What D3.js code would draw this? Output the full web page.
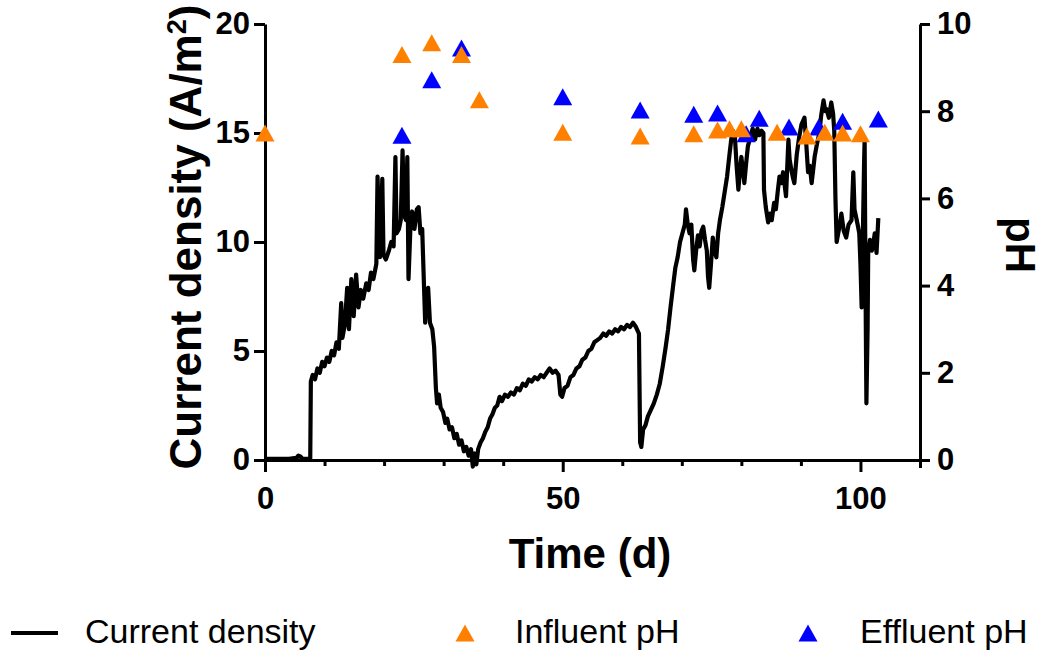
<!DOCTYPE html>
<html lang="en">
<head>
  <meta charset="UTF-8">
  <title>Current density and pH</title>
  <script src="https://d3js.org/d3.v7.min.js"></script>
  <style>
    body { margin: 0; background: #fff; }
    text { font-family: "Liberation Sans", Arial, sans-serif; }
    .axis path, .axis line { stroke: #000; stroke-width: 3px; }
    .axis text { font-size: 31px; font-weight: bold; fill: #000; }
    .title { font-size: 42px; font-weight: bold; }
    .legend text { font-size: 34px; }
  </style>
</head>
<body>
  <div id="chart"></div>
  <script>
    var w = 1044, h = 651;

    // current density (A/m2) vs time (d)
    var current = [
      [0,0.05],[2,0.05],[4,0.05],[5.3,0.1],[5.6,0.2],[6,0.15],[6.3,0.05],[7.6,0.05],[7.7,3.6],
      [8.0,3.9],[8.4,3.7],[8.8,4.2],[9.2,4.0],[9.6,4.5],[10,4.3],[10.4,4.7],[10.8,4.5],[11.2,5.0],[11.6,4.8],
      [12,5.4],[12.4,5.1],[12.8,7.2],[13.0,5.6],[13.4,6.2],[13.8,7.9],[14.1,6.0],[14.5,8.3],[14.9,6.6],
      [15.3,8.5],[15.7,7.0],[16.1,7.8],[16.5,7.4],[17.0,8.1],[17.4,7.8],[17.8,8.6],[18.2,8.3],[18.7,9.0],
      [18.9,13.0],[19.3,9.3],[19.7,12.9],[19.9,9.4],[20.3,9.2],[20.8,9.6],[21.2,10.0],[21.6,9.8],[21.9,13.9],
      [22.1,10.4],[22.5,10.6],[22.8,11.0],[23.1,14.2],[23.4,11.2],[23.7,11.0],[23.9,13.9],[24.1,8.3],[24.4,10.5],
      [24.7,11.4],[25.1,10.6],[25.5,11.5],[25.8,11.6],[26.1,10.4],[26.4,10.6],[26.7,8.0],[26.9,6.3],[27.2,7.5],
      [27.4,7.9],[27.7,6.3],[28.1,6.0],[28.4,5.2],[28.7,3.3],[28.9,2.6],[29.2,3.0],[29.5,2.4],[29.9,2.2],
      [30.3,1.7],[30.6,1.9],[31.0,1.4],[31.4,1.5],[31.8,1.0],[32.2,1.2],[32.6,0.7],[33.0,0.9],[33.4,0.4],
      [33.8,0.6],[34.2,0.2],[34.6,0.5],[34.9,-0.3],[35.2,0.3],[35.5,-0.2],[35.8,0.5],[36.2,0.8],[36.6,1.0],
      [37.0,1.3],[37.4,1.5],[37.8,1.9],[38.2,2.1],[38.6,2.4],[39.0,2.5],[39.4,2.9],[39.8,2.7],[40.3,3.0],
      [40.8,2.9],[41.3,3.1],[41.8,3.0],[42.3,3.3],[42.8,3.2],[43.3,3.5],[43.8,3.4],[44.3,3.7],[44.8,3.6],
      [45.3,3.8],[45.8,3.7],[46.3,3.9],[46.8,3.8],[47.3,4.0],[47.8,4.2],[48.3,4.0],[48.8,4.1],[49.3,3.9],
      [49.6,3.0],[49.9,2.9],[50.3,3.3],[50.8,3.4],[51.3,3.8],[51.8,3.9],[52.3,4.2],[52.8,4.3],[53.3,4.6],
      [53.8,4.7],[54.3,5.0],[54.8,5.1],[55.3,5.4],[55.8,5.5],[56.3,5.6],[56.8,5.8],[57.3,5.7],[57.8,5.9],
      [58.3,5.8],[58.8,6.0],[59.3,5.9],[59.8,6.1],[60.3,6.0],[60.8,6.2],[61.3,6.1],[61.8,6.3],[62.3,6.1],
      [62.8,5.8],[63.0,0.8],[63.2,0.6],[63.5,1.4],[63.9,1.6],[64.3,2.0],[64.8,2.3],[65.3,2.6],[65.8,3.0],
      [66.3,3.5],[66.8,4.3],[67.3,5.2],[67.7,6.0],[68.1,7.0],[68.5,7.9],[68.9,8.8],[69.3,9.3],[69.7,10.0],
      [70.1,10.4],[70.5,10.8],[70.7,11.5],[71.0,10.8],[71.3,10.4],[71.6,10.8],[71.9,9.2],[72.1,8.7],[72.4,9.6],
      [72.7,10.3],[73.0,9.8],[73.3,10.5],[73.6,10.7],[73.9,10.1],[74.2,9.6],[74.4,8.4],[74.6,7.9],[74.9,9.0],
      [75.2,10.2],[75.5,9.6],[75.8,9.3],[76.1,10.4],[76.4,11.0],[76.8,11.6],[77.2,12.3],[77.6,13.0],[78.0,14.0],
      [78.3,14.7],[78.6,15.1],[78.9,14.9],[79.2,13.5],[79.5,12.4],[79.8,13.4],[80.0,13.9],[80.3,13.2],[80.5,12.7],
      [80.8,13.6],[81.1,14.4],[81.5,14.8],[81.9,15.2],[82.3,14.7],[82.7,15.2],[83.0,14.9],[83.4,15.1],[83.7,15.0],
      [83.8,12.4],[84.1,11.6],[84.5,10.9],[84.8,11.3],[85.1,11.0],[85.5,11.8],[85.8,11.5],[86.1,12.3],[86.4,13.0],
      [86.7,12.7],[87.0,13.2],[87.5,12.1],[87.9,14.7],[88.1,13.8],[88.4,13.3],[88.7,12.9],[88.9,12.7],[89.3,14.0],
      [89.7,14.8],[90.1,15.4],[90.6,15.7],[90.9,14.5],[91.2,13.2],[91.5,13.5],[91.8,12.7],[92.1,13.4],[92.3,13.9],
      [92.7,14.5],[93.1,15.0],[93.4,15.8],[93.8,16.5],[94.1,16.0],[94.3,16.1],[94.7,15.7],[95.1,16.4],[95.4,15.9],
      [95.6,15.1],[95.8,12.0],[96.0,10.0],[96.4,10.6],[96.8,11.3],[97.2,10.5],[97.6,10.2],[98.0,10.8],[98.5,11.0],
      [98.8,13.2],[99.0,11.5],[99.3,11.1],[99.6,10.7],[99.8,10.4],[100.0,9.0],[100.2,7.0],[100.4,10.2],[100.6,13.5],
      [100.7,14.7],[100.85,8.0],[101.0,2.6],[101.2,6.0],[101.3,9.5],[101.6,10.1],[101.9,9.6],[102.2,10.0],
      [102.4,10.4],[102.7,9.5],[103.0,11.1]
    ];

    var influentDays = [0, 23, 28, 33, 36, 50, 63, 72, 76, 78, 80, 86, 91, 94, 97, 100];
    var influentPH   = [7.5, 9.3, 9.57, 9.3, 8.26, 7.52, 7.43, 7.48, 7.57, 7.6, 7.6, 7.52, 7.43, 7.52, 7.5, 7.48];

    var effluentDays = [23, 28, 33, 50, 63, 72, 76, 80.8, 83, 88, 93, 97, 103];
    var effluentPH   = [7.45, 8.72, 9.45, 8.33, 8.03, 7.93, 7.96, 7.48, 7.84, 7.64, 7.64, 7.77, 7.82];

    var xMajor = [0, 50, 100];
    var xMinor = [10, 20, 30, 40, 60, 70, 80, 90];
    var yLeftTicks = [0, 5, 10, 15, 20];
    var yRightTicks = [0, 2, 4, 6, 8, 10];

    var svg = d3.select("#chart").append("svg")
        .attr("width", w)
        .attr("height", h);

    var x = d3.scaleLinear().domain([0, 110]).range([265, 920]);
    var yL = d3.scaleLinear().domain([0, 20]).range([460, 24]);
    var yR = d3.scaleLinear().domain([0, 10]).range([460, 24]);

    // axes
    svg.append("g")
      .attr("class", "axis")
      .attr("transform", "translate(0,460)")
      .call(d3.axisBottom(x).tickValues(xMinor).tickSize(6).tickSizeOuter(0).tickFormat(""));

    svg.append("g")
      .attr("class", "axis")
      .attr("transform", "translate(0,460)")
      .call(d3.axisBottom(x).tickValues([110]).tickSize(8).tickSizeOuter(0).tickFormat(""))
      .select(".domain").remove();

    svg.append("g")
      .attr("class", "axis")
      .attr("transform", "translate(0,460)")
      .call(d3.axisBottom(x).tickValues(xMajor).tickSize(12).tickPadding(15).tickSizeOuter(0))
      .select(".domain").remove();

    svg.append("g")
      .attr("class", "axis")
      .attr("transform", "translate(265,0)")
      .call(d3.axisLeft(yL).tickValues(yLeftTicks).tickSize(11).tickPadding(4).tickSizeOuter(0));

    svg.append("g")
      .attr("class", "axis")
      .attr("transform", "translate(920,0)")
      .call(d3.axisRight(yR).tickValues(yRightTicks).tickSize(10).tickPadding(7).tickSizeOuter(0));

    // titles
    svg.append("text")
      .attr("class", "title")
      .style("font-size", "44px")
      .attr("text-anchor", "middle")
      .attr("transform", "translate(201,237) rotate(-90)")
      .html('Current density (A/m<tspan dy="-15" font-size="27">2</tspan><tspan dy="15">)</tspan>');

    svg.append("text")
      .attr("class", "title")
      .attr("text-anchor", "middle")
      .attr("transform", "translate(1006,245) rotate(90)")
      .text("pH");

    svg.append("text")
      .attr("class", "title")
      .attr("text-anchor", "middle")
      .attr("x", 590)
      .attr("y", 568)
      .text("Time (d)");

    // current density line
    var line = d3.line()
      .x(function(d) { return x(d[0]); })
      .y(function(d) { return yL(d[1]); });

    svg.append("path")
      .datum(current)
      .attr("fill", "none")
      .attr("stroke", "#000")
      .attr("stroke-width", 4.2)
      .attr("stroke-linejoin", "round")
      .attr("d", line);

    // triangles
    var tri = "M0,-8.5L9.5,8.5L-9.5,8.5Z";

    svg.append("g").selectAll("path")
      .data(effluentDays)
      .enter().append("path")
      .attr("d", tri)
      .attr("fill", "#0000ff")
      .attr("transform", function(d, i) { return "translate(" + x(d) + "," + yR(effluentPH[i]) + ")"; });

    svg.append("g").selectAll("path")
      .data(influentDays)
      .enter().append("path")
      .attr("d", tri)
      .attr("fill", "#ff8000")
      .attr("transform", function(d, i) { return "translate(" + x(d) + "," + yR(influentPH[i]) + ")"; });

    // legend
    var legend = svg.append("g").attr("class", "legend");

    legend.append("line")
      .attr("x1", 11).attr("x2", 58)
      .attr("y1", 633).attr("y2", 633)
      .attr("stroke", "#000").attr("stroke-width", 4);
    legend.append("text").attr("x", 85).attr("y", 643).text("Current density");

    legend.append("path").attr("d", tri).attr("fill", "#ff8000")
      .attr("transform", "translate(465,633)");
    legend.append("text").attr("x", 515).attr("y", 643).text("Influent pH");

    legend.append("path").attr("d", tri).attr("fill", "#0000ff")
      .attr("transform", "translate(808,633)");
    legend.append("text").attr("x", 860).attr("y", 643).text("Effluent pH");
  </script>
</body>
</html>
